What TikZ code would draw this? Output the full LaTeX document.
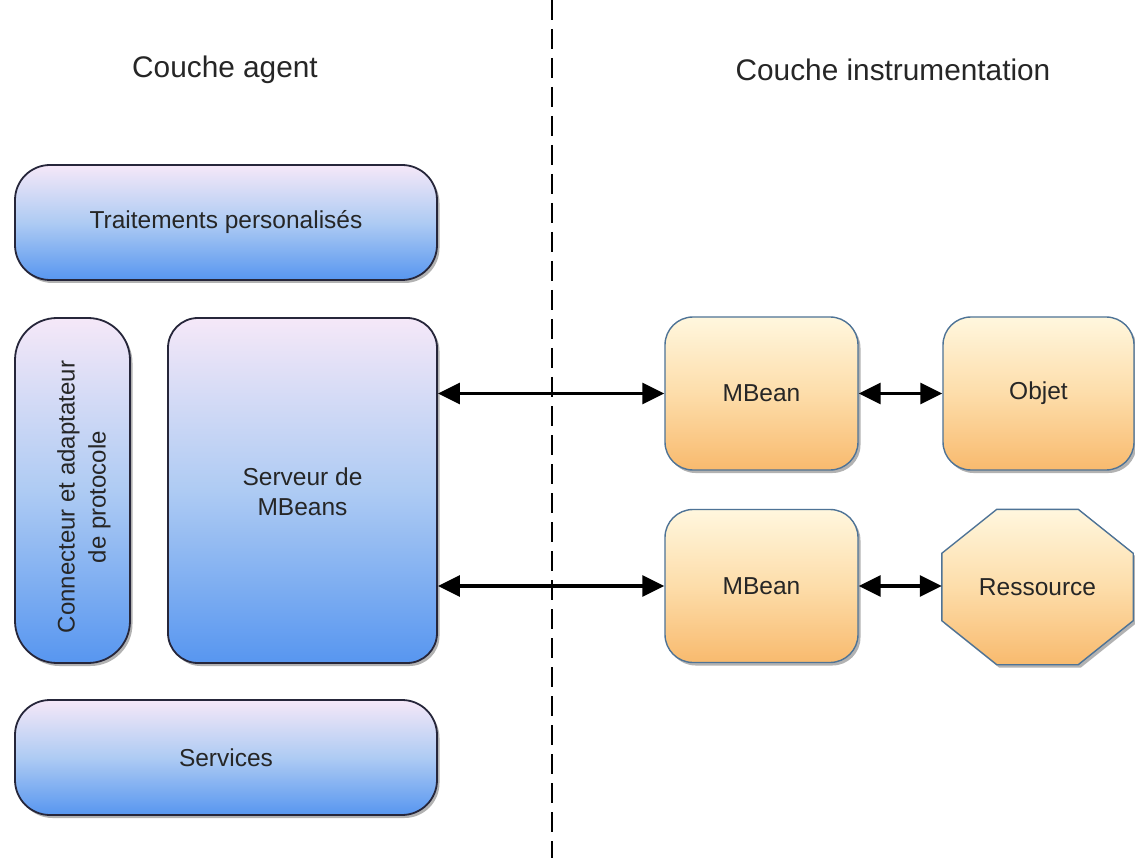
\documentclass[tikz,border=0pt]{standalone}
\usepackage{fontspec}
\setmainfont{Liberation Sans}
\usetikzlibrary{arrows.meta,shadows}
\definecolor{bTop}{HTML}{F5E8F8}
\definecolor{bMid}{HTML}{AECBF3}
\definecolor{bBot}{HTML}{5796F0}
\definecolor{bEdge}{HTML}{26263A}
\definecolor{oTop}{HTML}{FFF7DE}
\definecolor{oMid}{HTML}{FDDDAA}
\definecolor{oBot}{HTML}{F8BA6E}
\definecolor{oEdge}{HTML}{4E7396}
\tikzset{
  txt/.style={font=\fontsize{24.5}{30}\selectfont, text=black!85, align=center},
  ttl/.style={font=\fontsize{29.8}{34}\selectfont, text=black!85},
  shad/.style={drop shadow={shadow xshift=2.5pt, shadow yshift=-3pt, opacity=0.3, fill=black}},
  bluebox/.style={draw=bEdge, line width=1.8pt, rounded corners=#1, top color=bTop, bottom color=bBot, middle color=bMid, shad, txt, inner sep=0pt},
  orangebox/.style={draw=oEdge, line width=1.4pt, rounded corners=28pt, top color=oTop, bottom color=oBot, middle color=oMid, shad, txt, inner sep=0pt, minimum width=193pt, minimum height=153pt},
  link/.style={{Triangle[length=22pt,width=21pt]}-{Triangle[length=22pt,width=21pt]}, line width=3.2pt, black}
}
\begin{document}
\begin{tikzpicture}[x=1pt,y=-1pt]
\useasboundingbox (0,0) rectangle (1135,858);
\fill[white] (0,0) rectangle (1135,858);
% divider
\coordinate (dtop) at (552,0);
\coordinate (dbot) at (552,858);
\draw[line width=1.5pt, dash pattern=on 20pt off 9pt] (dtop) -- (dbot);
% titles
\node[ttl] (tagent) at (225,70) {Couche agent};
\node[ttl] (tinstr) at (893,70) {Couche instrumentation};
% agent layer
\node[bluebox=35pt, minimum width=422pt, minimum height=115pt] (trait) at (226,222.5) {Traitements personalisés};
\node[bluebox=42pt, minimum width=115pt, minimum height=345pt] (conn) at (72.5,490.5) {};
\node[txt, rotate=90, font=\fontsize{24}{31}\selectfont] (connt) at (84,497) {Connecteur et adaptateur\\de protocole};
\node[bluebox=30pt, minimum width=269pt, minimum height=345pt] (serv) at (302.5,490.5) {};
\node[txt] (servt) at (302.5,492) {Serveur de\\MBeans};
\node[bluebox=35pt, minimum width=422pt, minimum height=115pt] (svc) at (226,757.5) {Services};
% instrumentation layer
\node[orangebox] (mb1) at (761.5,393.5) {MBean};
\node[orangebox, minimum width=191pt] (obj) at (1038.5,393.5) {Objet};
\node[orangebox] (mb2) at (761.5,586) {MBean};
\node[txt, minimum width=191pt, minimum height=155pt, inner sep=0pt] (res) at (1037.5,587) {};
\path[draw=oEdge, line width=1.4pt, top color=oTop, bottom color=oBot, middle color=oMid, shad]
  ([xshift=55pt]res.north west) -- ([xshift=-55pt]res.north east)
  -- ([yshift=-44pt]res.north east) -- ([yshift=44pt]res.south east)
  -- ([xshift=-55pt]res.south east) -- ([xshift=55pt]res.south west)
  -- ([yshift=44pt]res.south west) -- ([yshift=-44pt]res.north west) -- cycle;
\node[txt] (rest) at (res.center) {Ressource};
% connectors
\draw[link] (mb1.west -| serv.east) -- (mb1.west);
\draw[link] (mb2.west -| serv.east) -- (mb2.west);
\draw[link] (mb1.east) -- (obj.west);
\draw[link] (mb2.east) -- (mb2.east -| res.west);
\end{tikzpicture}
\end{document}
